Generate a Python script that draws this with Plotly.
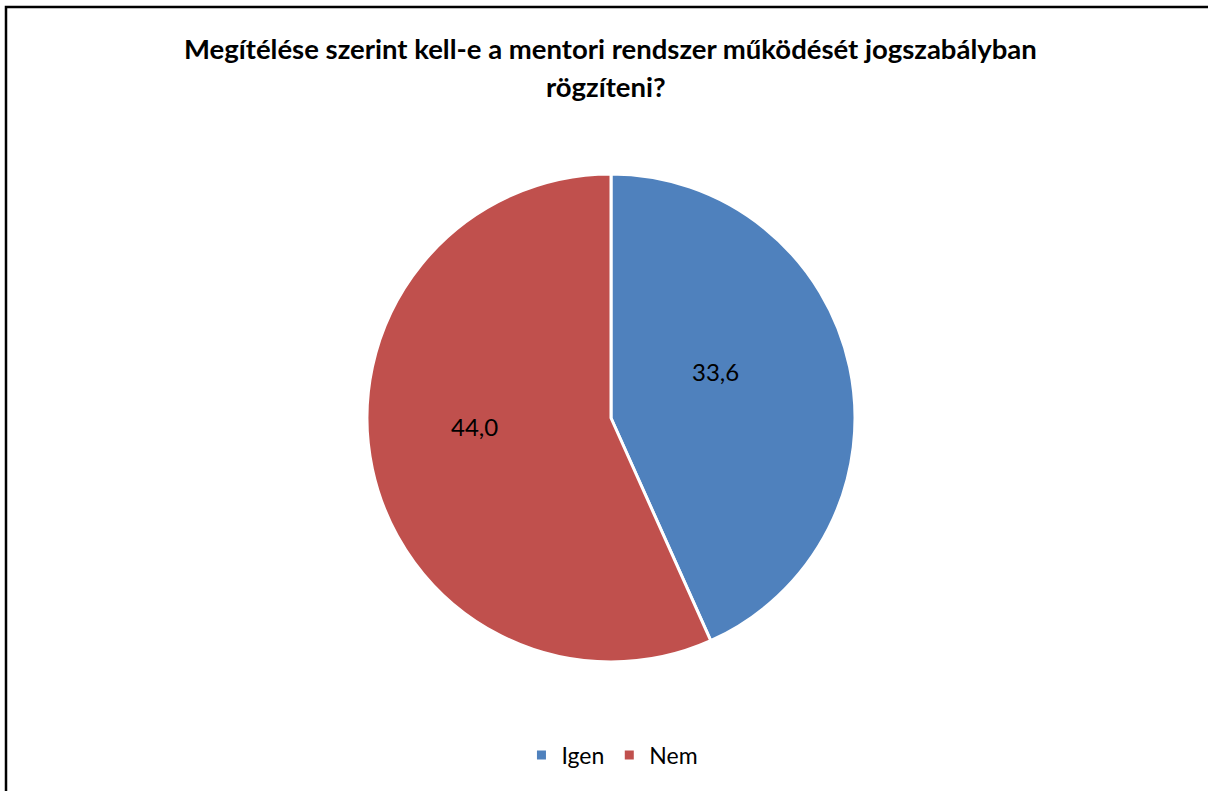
import plotly.graph_objects as go

# Survey answers: should the mentoring system be regulated by law?
categories = ["Igen", "Nem"]
values = [33.6, 44.0]
colors = ["#4F81BD", "#C0504D"]

title_line1 = "Megítélése szerint kell-e a mentori rendszer működését jogszabályban"
title_line2 = "rögzíteni?"

W, H = 1208, 791
FONT = "Lato"

# pie placement (pixels): centre and radius
cx, cy, r = 611, 418, 244

# data-label anchor points (pixels), one per slice
label_px = [(715, 371), (474, 427)]

fig = go.Figure(
    go.Pie(
        labels=categories,
        values=values,
        marker=dict(colors=colors, line=dict(color="white", width=3)),
        sort=False,
        direction="clockwise",
        rotation=0,
        textinfo="none",
        hoverinfo="label+value",
        domain=dict(
            x=[(cx - r) / W, (cx + r) / W],
            y=[1 - (cy + r) / H, 1 - (cy - r) / H],
        ),
    )
)

annotations = [
    dict(text=f"<b>{title_line1}</b>", x=611 / W, y=1 - 49 / H, xref="paper", yref="paper",
         xanchor="center", yanchor="middle", showarrow=False,
         font=dict(family=FONT, size=27.5, color="black")),
    dict(text=f"<b>{title_line2}</b>", x=606 / W, y=1 - 86 / H, xref="paper", yref="paper",
         xanchor="center", yanchor="middle", showarrow=False,
         font=dict(family=FONT, size=27.5, color="black")),
]
# value labels, text taken from the slice values
for v, (px, py) in zip(values, label_px):
    annotations.append(
        dict(text=f"{v:.1f}".replace(".", ","), x=px / W, y=1 - py / H,
             xref="paper", yref="paper", xanchor="center", yanchor="middle",
             showarrow=False, font=dict(family=FONT, size=24, color="black"))
    )

fig.update_layout(
    width=W,
    height=H,
    margin=dict(l=0, r=0, t=0, b=0),
    paper_bgcolor="white",
    plot_bgcolor="white",
    separators=", ",
    showlegend=True,
    legend=dict(
        orientation="h",
        x=0.507,
        xanchor="center",
        y=1 - 755 / H,
        yanchor="middle",
        font=dict(family=FONT, size=23, color="black"),
        itemwidth=30,
        traceorder="normal",
    ),
    annotations=annotations,
    shapes=[
        dict(type="rect", xref="paper", yref="paper",
             x0=6 / W, x1=1.01, y0=-0.01, y1=1 - 7 / H,
             line=dict(color="black", width=2.5), fillcolor="rgba(0,0,0,0)"),
    ],
)

fig.write_html("out.html")
